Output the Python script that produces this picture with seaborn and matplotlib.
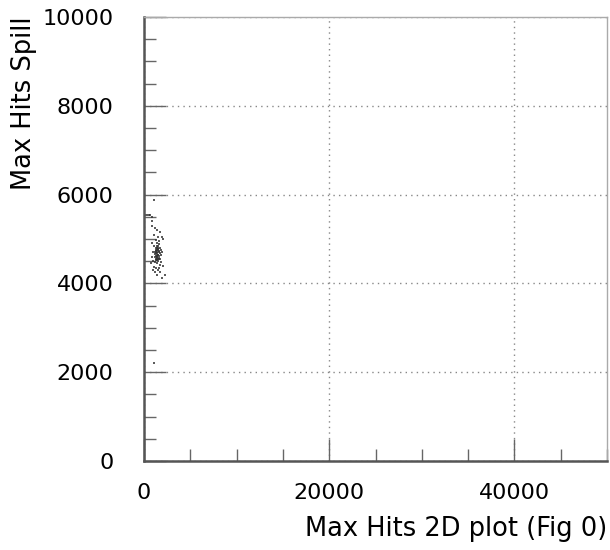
import matplotlib
matplotlib.use("Agg")
import matplotlib.pyplot as plt
import seaborn as sns
import pandas as pd
from matplotlib.ticker import MultipleLocator

# data: (Max Hits 2D plot, Max Hits Spill)
hits_2d = [1080, 1100, 2300, 1900,
           100, 300, 500, 700, 850, 850, 870,
           1200, 1400, 1700, 1900, 1100, 1500, 1300, 2000, 1600,
           900, 1100, 1250, 1400, 1550, 1700, 1850, 1000, 1200, 1350,
           1500, 1650, 1800, 1950, 1150, 1450, 1600, 1750, 1300, 900,
           1000, 1200, 1400, 1550, 1700, 1850, 1100, 1300, 1500, 1650,
           2000, 800, 1150, 1400, 1750, 950,
           1250, 1450, 1350, 1550, 1250, 1500, 1650, 1400,
           1300, 1450, 1600, 1350, 1500, 1200, 1550, 1400, 1300, 1450,
           1700, 1600, 1350, 1500, 1250, 1650]
hits_spill = [5880, 2210, 4180, 4130,
              5530, 5540, 5540, 5535, 5500, 5400, 5300,
              5250, 5200, 5150, 5050, 5100, 5050, 4980, 5000, 4950,
              4900, 4850, 4800, 4900, 4850, 4800, 4750, 4700, 4700, 4650,
              4750, 4700, 4650, 4700, 4600, 4600, 4620, 4560, 4550, 4600,
              4500, 4480, 4450, 4500, 4420, 4480, 4380, 4350, 4300, 4350,
              4400, 4450, 4250, 4200, 4250, 4300,
              4750, 4700, 4800, 4650, 4620, 4550, 4560, 4750,
              4720, 4680, 4720, 4600, 4640, 4660, 4780, 4560, 4680, 4520,
              4680, 4580, 4850, 4800, 4520, 4880]

xlabel = "Max Hits 2D plot (Fig 0)"
ylabel = "Max Hits Spill"

df = pd.DataFrame({"x": hits_2d, "y": hits_spill})

sns.set_style("white")
plt.rcParams["font.family"] = ["DejaVu Sans"]
plt.rcParams["text.color"] = "black"
plt.rcParams["axes.labelcolor"] = "black"
plt.rcParams["xtick.color"] = "black"
plt.rcParams["ytick.color"] = "black"

fig = plt.figure(figsize=(6.1, 5.5), dpi=100)
ax = fig.add_axes([144/610, 89/550, 463/610, 444/550])

sns.scatterplot(data=df, x="x", y="y", ax=ax, marker="s", s=2.5,
                color="#333333", alpha=0.8, linewidth=0, legend=False)

ax.set_xlim(0, 50000)
ax.set_ylim(0, 10000)
ax.xaxis.set_major_locator(MultipleLocator(20000))
ax.xaxis.set_minor_locator(MultipleLocator(5000))
ax.yaxis.set_major_locator(MultipleLocator(2000))
ax.yaxis.set_minor_locator(MultipleLocator(500))

ax.grid(True, which="major", linestyle=(0, (1, 3)), color="#888888", linewidth=1.0)
ax.tick_params(which="both", bottom=True, left=True, top=False, right=False)
ax.tick_params(which="major", direction="in", length=15.8, width=1.0, color="#666666",
               labelsize=16, labelcolor="black")
ax.tick_params(which="minor", direction="in", length=8.6, width=1.0, color="#666666")
ax.tick_params(axis="x", which="major", pad=16)
ax.tick_params(axis="y", which="major", pad=22)

for side in ["left", "bottom"]:
    ax.spines[side].set_color("#555555")
    ax.spines[side].set_linewidth(1.8)
for side in ["top", "right"]:
    ax.spines[side].set_color("#aaaaaa")
    ax.spines[side].set_linewidth(1.0)

ax.set_xlabel(xlabel, fontsize=18.5, loc="right", labelpad=9)
ax.set_ylabel(ylabel, fontsize=18.5, loc="top", labelpad=4)

fig.savefig("out.png", dpi=100)
